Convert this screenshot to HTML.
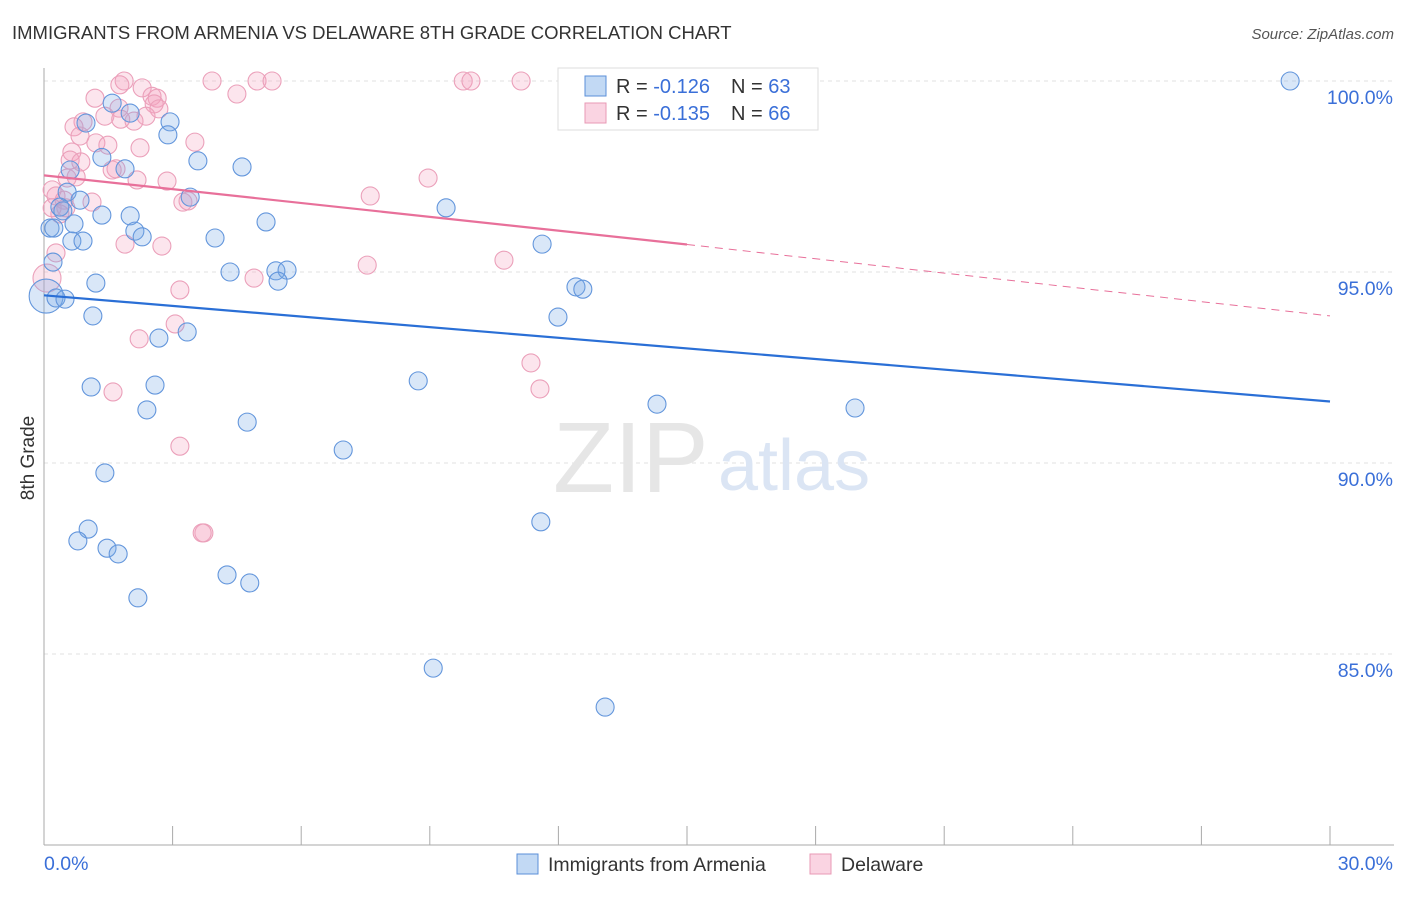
<!DOCTYPE html>
<html><head><meta charset="utf-8"><style>
body{margin:0;background:#fff;font-family:"Liberation Sans",sans-serif}
svg text{font-family:"Liberation Sans",sans-serif}
</style></head><body>
<svg width="1406" height="892" viewBox="0 0 1406 892" xmlns="http://www.w3.org/2000/svg">
<text x="12" y="39" font-size="18.5" fill="#333">IMMIGRANTS FROM ARMENIA VS DELAWARE 8TH GRADE CORRELATION CHART</text>
<text x="1394" y="39" font-size="15" fill="#555" font-style="italic" text-anchor="end">Source: ZipAtlas.com</text>
<g id="grid"></g>
<text x="553" y="492" font-size="100" fill="#e6e6e6" font-family="Liberation Serif">ZIP</text>
<text x="718" y="490" font-size="72" fill="#dbe5f4">atlas</text>
<g id="pts"></g>
<g id="trend"></g>
<text x="34" y="458" font-size="19" fill="#333" transform="rotate(-90 34 458)" text-anchor="middle">8th Grade</text>
<g>
<rect x="558" y="68" width="260" height="62" fill="#fff" stroke="#ddd"/>
<rect x="585" y="76" width="21" height="20" fill="rgba(120,170,230,0.45)" stroke="#5b8fd8"/>
<rect x="585" y="103" width="21" height="20" fill="rgba(245,160,190,0.45)" stroke="#e89ab5"/>
<text x="616" y="93" font-size="20" fill="#333">R = <tspan fill="#3a6fd8">-0.126</tspan></text>
<text x="731" y="93" font-size="20" fill="#333">N = <tspan fill="#3a6fd8">63</tspan></text>
<text x="616" y="120" font-size="20" fill="#333">R = <tspan fill="#3a6fd8">-0.135</tspan></text>
<text x="731" y="120" font-size="20" fill="#333">N = <tspan fill="#3a6fd8">66</tspan></text>
</g>
<g>
<rect x="517" y="854" width="21" height="20" fill="rgba(120,170,230,0.45)" stroke="#5b8fd8"/>
<text x="548" y="871" font-size="19.5" fill="#333">Immigrants from Armenia</text>
<rect x="810" y="854" width="21" height="20" fill="rgba(245,160,190,0.45)" stroke="#e89ab5"/>
<text x="841" y="871" font-size="19.5" fill="#333">Delaware</text>
</g>
</svg>
<script>
const yTicks=[100,95,90,85];
const yTickLabels=["100.0%","95.0%","90.0%","85.0%"];
const xTickLabels=["0.0%","30.0%"];
const blueX=[29.07,1.59,2.01,2.94,0.98,2.89,3.59,4.62,1.35,1.89,0.61,0.54,0.84,3.41,9.38,0.37,0.44,1.35,2.01,5.18,0.7,0.14,0.23,2.12,2.29,3.99,0.65,0.91,11.62,0.21,4.34,5.41,5.67,5.46,1.21,12.41,12.57,0.05,0.28,0.49,1.14,11.99,3.34,2.68,8.73,1.1,2.59,2.4,14.3,18.92,4.74,6.98,1.42,1.03,0.79,11.59,1.47,1.73,4.27,4.8,2.19,9.08,13.09];
const blueY=[100,99.42,99.16,98.93,98.9,98.59,97.91,97.75,98.0,97.7,97.67,97.09,96.88,96.96,96.68,96.7,96.6,96.49,96.47,96.31,96.26,96.15,96.15,96.07,95.92,95.89,95.81,95.81,95.73,95.26,95.0,95.03,95.05,94.76,94.71,94.61,94.55,94.37,94.32,94.29,93.85,93.82,93.43,93.27,92.15,91.99,92.04,91.39,91.54,91.44,91.07,90.34,89.74,88.27,87.96,88.46,87.77,87.62,87.07,86.86,86.47,84.63,83.61];
const pinkX=[1.87,1.77,3.92,4.97,5.32,9.78,9.96,11.13,2.29,4.5,1.19,2.52,2.64,2.57,2.68,1.75,1.42,2.38,1.79,2.1,0.91,0.7,0.84,1.21,1.49,3.52,2.24,0.65,0.61,0.86,1.68,1.59,0.54,0.75,2.17,2.87,8.96,0.19,0.28,7.61,0.47,1.12,3.24,3.36,0.19,0.51,0.37,1.89,2.75,0.28,10.73,7.54,4.9,0.07,3.17,3.06,2.22,11.36,1.61,11.57,3.17,3.73,3.69];
const pinkY=[100,99.9,100,100,100,100,100,100,99.82,99.66,99.55,99.6,99.55,99.4,99.27,99.29,99.08,99.08,99.0,98.95,98.93,98.8,98.56,98.38,98.32,98.4,98.25,98.14,97.93,97.88,97.7,97.67,97.46,97.49,97.41,97.38,97.46,97.15,96.99,96.99,96.88,96.83,96.83,96.86,96.68,96.68,96.52,95.73,95.68,95.5,95.31,95.18,94.84,94.84,94.53,93.64,93.25,92.62,91.86,91.94,90.44,88.17,88.17];
const blueTrend=[[0,94.39],[30,91.61]];
const pinkTrend=[[0,97.53],[15,95.72],[30,93.85]];
const X=v=>44+v/30*1286, Y=v=>81+(100-v)/5*191;
const NS="http://www.w3.org/2000/svg";
function mk(t,a,p){const e=document.createElementNS(NS,t);for(const k in a)e.setAttribute(k,a[k]);p.appendChild(e);return e;}
const g=document.getElementById('grid');
yTicks.forEach((v,i)=>{
 const l=mk('line',{x1:44,x2:1394,y1:Y(v),y2:Y(v),stroke:'#e2e2e2','stroke-dasharray':'4,4'},g);
 
 
 const t=mk('text',{x:1393,y:Y(v)+23,'font-size':19.5,fill:'#3a6fd8','text-anchor':'end'},g);
 t.textContent=yTickLabels[i];
 
 
});
mk('line',{x1:44,x2:44,y1:68,y2:845,stroke:'#aaa'},g);
mk('line',{x1:44,x2:1394,y1:845,y2:845,stroke:'#aaa'},g);
for(let i=0;i<=10;i++){const l=mk('line',{x1:X(i*3),x2:X(i*3),y1:826,y2:845,stroke:'#aaa'},g);
 
 }
[[0,44,'start'],[30,1393,'end']].forEach((d,i)=>{const t=mk('text',{x:d[1],y:870,'font-size':19.5,fill:'#3a6fd8','text-anchor':d[2]},g);t.textContent=xTickLabels[i];
 
 });
const pg=document.getElementById('pts');
function dots(xs,ys,fill,stroke,name,bigIdx,bigR){xs.forEach((x,i)=>{
 const c=mk('circle',{cx:X(x),cy:Y(ys[i]),r:i===bigIdx?bigR:9,fill:fill,stroke:stroke,'stroke-width':1.1},pg);
 
 });}
dots(pinkX,pinkY,'rgba(245,160,190,0.28)','#eba0ba','delaware-point',53,14);
dots(blueX,blueY,'rgba(120,170,230,0.28)','#6396dc','armenia-point',37,17);
const tg=document.getElementById('trend');
let l=mk('line',{x1:X(blueTrend[0][0]),y1:Y(blueTrend[0][1]),x2:X(blueTrend[1][0]),y2:Y(blueTrend[1][1]),stroke:'#2a6fd6','stroke-width':2.2},tg);


l=mk('line',{x1:X(pinkTrend[0][0]),y1:Y(pinkTrend[0][1]),x2:X(pinkTrend[1][0]),y2:Y(pinkTrend[1][1]),stroke:'#e8709a','stroke-width':2.2},tg);


l=mk('line',{x1:X(pinkTrend[1][0]),y1:Y(pinkTrend[1][1]),x2:X(pinkTrend[2][0]),y2:Y(pinkTrend[2][1]),stroke:'#e8709a','stroke-width':1,'stroke-dasharray':'8,6'},tg);


</script>
</body></html>
